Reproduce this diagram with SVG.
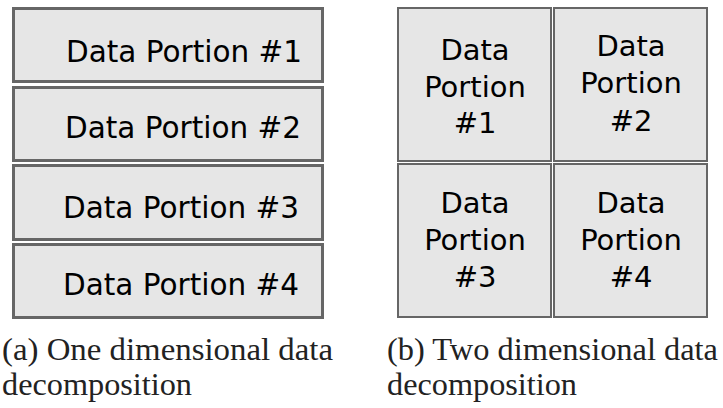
<svg xmlns="http://www.w3.org/2000/svg" width="723" height="408" viewBox="0 0 723 408">
<style>
.box{fill:#e6e6e6;stroke:#666666;stroke-width:3}
.cell{fill:#e6e6e6;stroke:#666666;stroke-width:2}
.lbl{font-family:"DejaVu Sans",sans-serif;font-size:29.5px;fill:#000}
.cl{font-family:"DejaVu Sans",sans-serif;font-size:29px;fill:#000;text-anchor:middle}
.cap{font-family:"Liberation Serif",serif;font-size:31px;fill:#222}
</style>
<rect width="723" height="408" fill="#fff"/>
<g id="n1"><rect class="box" x="13.5" y="8.5" width="309" height="73"/><text class="lbl" x="66" y="62">Data Portion #1</text></g>
<g id="n2"><rect class="box" x="13.5" y="87.5" width="309" height="73"/><text class="lbl" x="65" y="138">Data Portion #2</text></g>
<g id="n3"><rect class="box" x="13.5" y="165.5" width="309" height="74"/><text class="lbl" x="63" y="218">Data Portion #3</text></g>
<g id="n4"><rect class="box" x="13.5" y="244.5" width="309" height="73"/><text class="lbl" x="63" y="295">Data Portion #4</text></g>
<g id="c1"><rect class="cell" x="398" y="8" width="153" height="153"/><text class="cl" x="475" y="60">Data</text><text class="cl" x="475" y="97">Portion</text><text class="cl" x="475" y="133">#1</text></g>
<g id="c2"><rect class="cell" x="554" y="8" width="153" height="153"/><text class="cl" x="631" y="56">Data</text><text class="cl" x="631" y="93">Portion</text><text class="cl" x="631" y="131">#2</text></g>
<g id="c3"><rect class="cell" x="398" y="164" width="153" height="153"/><text class="cl" x="475" y="213">Data</text><text class="cl" x="475" y="250">Portion</text><text class="cl" x="475" y="287">#3</text></g>
<g id="c4"><rect class="cell" x="554" y="164" width="153" height="153"/><text class="cl" x="631" y="213">Data</text><text class="cl" x="631" y="250">Portion</text><text class="cl" x="631" y="287">#4</text></g>
<g id="connectors"></g>
<g id="captions">
<text class="cap" x="2" y="360" textLength="331" lengthAdjust="spacingAndGlyphs">(a) One dimensional data</text>
<text class="cap" x="2" y="395" textLength="190" lengthAdjust="spacingAndGlyphs">decomposition</text>
<text class="cap" x="387" y="360" textLength="331" lengthAdjust="spacingAndGlyphs">(b) Two dimensional data</text>
<text class="cap" x="387" y="395" textLength="190" lengthAdjust="spacingAndGlyphs">decomposition</text>
</g>
</svg>
